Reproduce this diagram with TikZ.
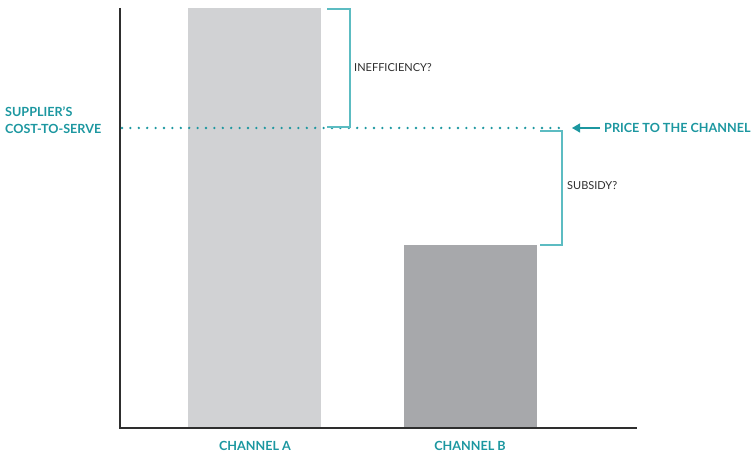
\documentclass[tikz,border=0pt]{standalone}
\usepackage{fontspec}
\setmainfont{Lato}
\usepackage{xcolor}
\usetikzlibrary{positioning, arrows.meta}

\definecolor{tealtext}{HTML}{1C97A0}
\definecolor{tealline}{HTML}{5CBCC2}
\definecolor{barlight}{HTML}{D1D2D4}
\definecolor{bardark}{HTML}{A7A8AB}
\definecolor{axisgray}{HTML}{2E2E2E}

\tikzset{
    lab/.style={text=tealtext, font=\bfseries\fontsize{12.6}{17}\selectfont, inner sep=0pt},
    note/.style={text=axisgray, font=\fontsize{11}{13}\selectfont, inner sep=0pt, anchor=west},
    bracket/.style={draw=tealline, line width=1.1pt},
    bar/.style={draw=none, inner sep=0pt, minimum width=133pt, anchor=south}
}

\begin{document}
\begin{tikzpicture}[x=1pt, y=1pt]
    \useasboundingbox (0,0) rectangle (752,457);
    % Axes
    \coordinate (o) at (120,29);
    \coordinate (ytop) at (120,449);
    \coordinate (xend) at (637,29);

    % Bars
    \node[bar, fill=barlight, minimum height=420pt] (barA) at (254.5,29) {};
    \node[bar, fill=bardark, minimum height=183pt] (barB) at (470.5,29) {};
    \draw[axisgray, line width=1.8pt] (ytop) -- (o) -- (xend);

    % Cost-to-serve level
    \coordinate (cl) at (122,329);
    \coordinate (cr) at (566,329);
    \draw[tealtext, line width=2.6pt, line cap=round, dash pattern=on 0pt off 8.4pt] (cl) -- (cr);
    \node[lab, anchor=west, align=left] (supplier) at (5,337) {SUPPLIER’S\\COST-TO-SERVE};

    % Price arrow
    \node[lab, anchor=west] (price) at (604,329) {PRICE TO THE CHANNEL};
    \coordinate (tip) at (572,329);
    \draw[tealtext, line width=1.2pt, -{Triangle[length=8pt, width=9pt]}] ([xshift=-4pt]price.west) -- (tip);

    % Inefficiency bracket
    \coordinate (i1) at (327,448); \coordinate (i2) at (350,448);
    \coordinate (i3) at (350,330); \coordinate (i4) at (327,330);
    \draw[bracket] (i1) -- (i2) -- (i3) -- (i4);
    \node[note] (ineff) at (354,389) {INEFFICIENCY?};

    % Subsidy bracket
    \coordinate (s1) at (540,326); \coordinate (s2) at (562,326);
    \coordinate (s3) at (562,212); \coordinate (s4) at (540,212);
    \draw[bracket] (s1) -- (s2) -- (s3) -- (s4);
    \node[note] (subsidy) at (567,271) {SUBSIDY?};

    % Channel labels
    \node[lab] (chA) at (255,11) {CHANNEL A};
    \node[lab] (chB) at (470,11) {CHANNEL B};
\end{tikzpicture}
\end{document}
